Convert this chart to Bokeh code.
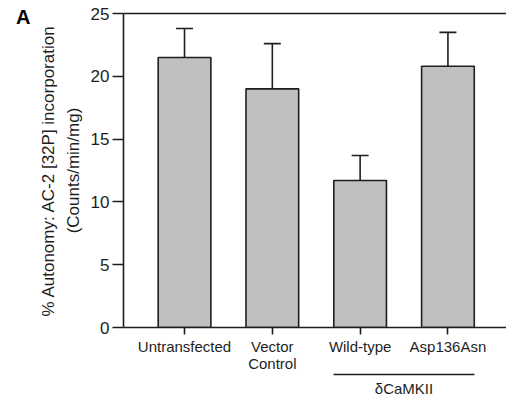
from bokeh.plotting import figure
from bokeh.models import (Range1d, FixedTicker, LinearAxis, Whisker, TeeHead,
                          ColumnDataSource)
from bokeh.embed import file_html
from bokeh.resources import INLINE

# ---- data ----
categories = ["Untransfected", "Vector\nControl", "Wild-type", "Asp136Asn"]
values = [21.5, 19.0, 11.7, 20.8]
err_upper = [23.8, 22.6, 13.7, 23.5]
y_ticks = [0, 5, 10, 15, 20, 25]
group_label = "δCaMKII"
group_members = [2, 3]
y_label = "% Autonomy: AC-2 [32P] incorporation\n(Counts/min/mg)"
panel_letter = "A"
panel_letter_at = 24.7

xs = list(range(len(categories)))
bar_w = 0.6
FONT = "Liberation Sans"
INK = "#1e1e1e"

src = ColumnDataSource(dict(x=xs, top=values, upper=err_upper))

p = figure(frame_width=383, frame_height=314, output_backend="svg",
           toolbar_location=None, min_border_left=123, min_border_right=0,
           min_border_top=13, min_border_bottom=0,
           x_range=Range1d(-0.695, 3.667), y_range=Range1d(0, 25))
p.outline_line_color = None
p.grid.visible = False
p.background_fill_color = "white"
p.border_fill_color = "white"

xa = p.below[0]
ya = p.left[0]

p.vbar(x="x", top="top", width=bar_w, bottom=0, source=src,
       fill_color="#c0c0c0", line_color=INK, line_width=1.6)
wh = Whisker(base="x", lower="top", upper="upper", source=src,
             line_color=INK, line_width=1.6,
             upper_head=TeeHead(size=17, line_color=INK, line_width=1.6),
             lower_head=None)
p.add_layout(wh)

# top border line (axis without ticks/labels)
ta = LinearAxis(ticker=FixedTicker(ticks=[]))
ta.minor_tick_line_color = None
ta.major_tick_line_color = None
ta.major_label_text_font_size = "0px"
ta.major_label_standoff = 0
ta.axis_line_width = 1.5
ta.axis_line_color = INK
p.add_layout(ta, "above")

# y axis
ya.ticker = FixedTicker(ticks=y_ticks)
ya.minor_tick_line_color = None
ya.major_tick_out = 11
ya.major_tick_in = 0
ya.major_label_standoff = 3
ya.axis_line_width = 1.6
ya.major_tick_line_width = 1.6
ya.axis_line_color = INK
ya.major_tick_line_color = INK
ya.major_label_text_font = FONT
ya.major_label_text_font_size = "17px"
ya.major_label_text_color = INK
ya.axis_label = y_label
ya.axis_label_text_font = FONT
ya.axis_label_text_font_size = "17px"
ya.axis_label_text_font_style = "normal"
ya.axis_label_text_color = INK
ya.axis_label_standoff = 5
ya.axis_label_text_line_height = 1.3

# panel letter as an outer left axis label
la = LinearAxis(ticker=FixedTicker(ticks=[panel_letter_at]))
la.major_label_overrides = {panel_letter_at: panel_letter}
la.axis_line_color = None
la.major_tick_line_color = None
la.minor_tick_line_color = None
la.major_tick_out = 0
la.major_label_standoff = 5
la.major_label_text_font = FONT
la.major_label_text_font_size = "20px"
la.major_label_text_font_style = "bold"
la.major_label_text_color = "black"
p.add_layout(la, "left")

# x axis
xa.ticker = FixedTicker(ticks=xs)
xa.major_label_overrides = {i: c for i, c in zip(xs, categories)}
xa.minor_tick_line_color = None
xa.major_tick_out = 7
xa.major_tick_in = 0
xa.major_label_standoff = 3
xa.axis_line_width = 1.6
xa.major_tick_line_width = 1.6
xa.axis_line_color = INK
xa.major_tick_line_color = INK
xa.major_label_text_font = FONT
xa.major_label_text_font_size = "15px"
xa.major_label_text_color = INK
xa.major_label_text_line_height = 1.0

# group axis (line under the δCaMKII members)
g0 = xs[group_members[0]] - bar_w / 2
g1 = xs[group_members[-1]] + bar_w / 2
gmid = (xs[group_members[0]] + xs[group_members[-1]]) / 2
ga = LinearAxis(ticker=FixedTicker(ticks=[gmid]), bounds=(g0, g1))
ga.major_label_overrides = {gmid: group_label}
ga.minor_tick_line_color = None
ga.major_tick_out = 0
ga.major_tick_in = 0
ga.major_label_standoff = 5
ga.axis_line_width = 1.6
ga.axis_line_color = INK
ga.major_label_text_font = FONT
ga.major_label_text_font_size = "15px"
ga.major_label_text_color = INK
p.add_layout(ga, "below")

open("out.html", "w").write(file_html(p, INLINE))
